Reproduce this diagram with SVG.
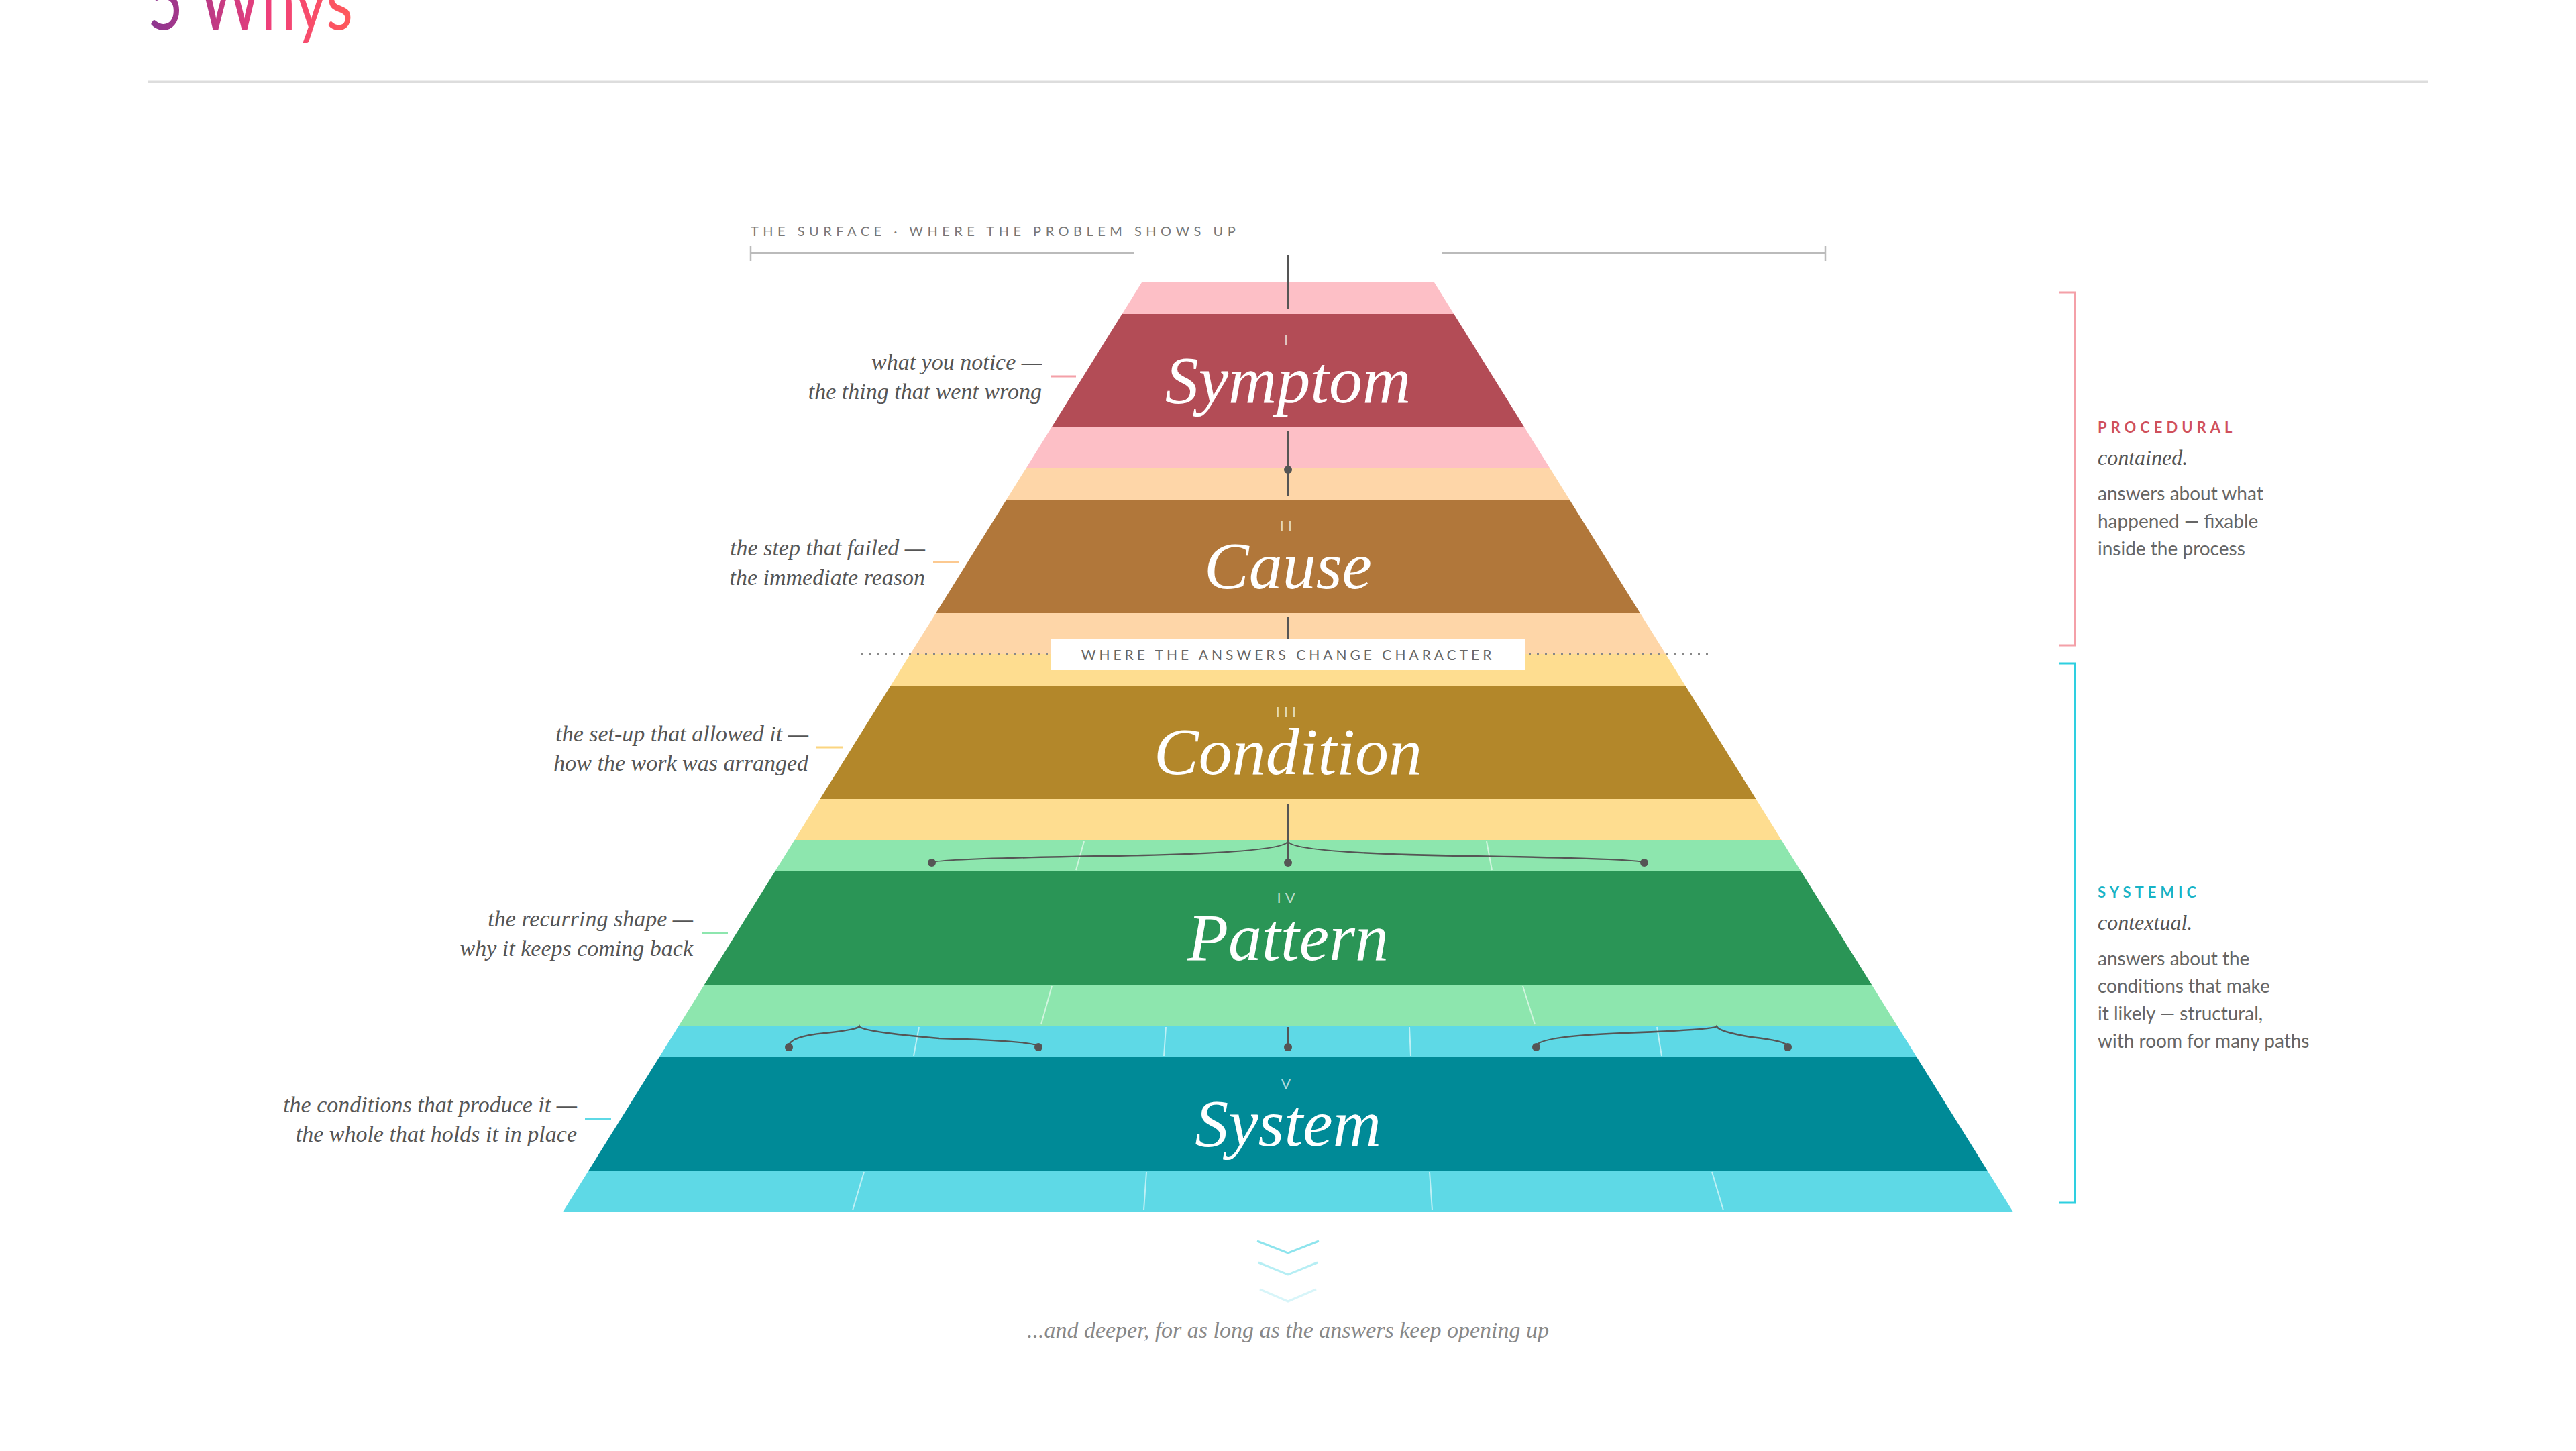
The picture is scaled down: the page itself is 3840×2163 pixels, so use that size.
<svg xmlns="http://www.w3.org/2000/svg" width="3840" height="2163" viewBox="0 0 3840 2163">
<defs>
<linearGradient id="tg" x1="0" x2="1" y1="0" y2="0"><stop offset="0" stop-color="#8a3590"/><stop offset="0.6" stop-color="#f0407a"/><stop offset="1" stop-color="#ff5a5a"/></linearGradient>
<style>
.name{font-family:"Liberation Serif","DejaVu Serif",serif;font-style:italic;font-size:100px;fill:#fff;text-anchor:middle}
.num{font-family:"Lato","Liberation Sans",sans-serif;font-size:22px;fill:#fff;fill-opacity:.7;text-anchor:middle;letter-spacing:6px}
.ann{font-family:"Liberation Serif","DejaVu Serif",serif;font-style:italic;font-size:34px;fill:#555;text-anchor:end}
.cap{font-family:"Lato","Liberation Sans",sans-serif;font-size:20px;fill:#777;letter-spacing:6.5px}
.body{font-family:"Lato","Open Sans",sans-serif;font-size:28px;fill:#666}
.sub{font-family:"Liberation Serif","DejaVu Serif",serif;font-style:italic;font-size:32px;fill:#555}
.ax{stroke:#555;stroke-width:2.5;fill:none}
.dv{stroke:#fff;stroke-opacity:.6;stroke-width:2}
.dot{fill:#555}
</style>
</defs>
<rect width="3840" height="2163" fill="#fff"/>
<text x="220" y="44" font-family="Lato,'Liberation Sans',sans-serif" font-size="118" fill="url(#tg)" textLength="306" lengthAdjust="spacingAndGlyphs">5 Whys</text>
<line x1="220" y1="122" x2="3620" y2="122" stroke="#ddd" stroke-width="3"/>

<g id="surface">
<text x="1119" y="352" class="cap">THE SURFACE · WHERE THE PROBLEM SHOWS UP</text>
<path d="M1119 377H1690M2150 377H2721M1119 367V389M2721 367V389" stroke="#bbb" stroke-width="2.5" fill="none"/>
</g>

<g id="level1">
<polygon points="1702,421 2138,421 2167.3,468 1672.7,468" fill="#fdbfc6"/>
<polygon points="1672.7,468 2167.3,468 2272.5,637 1567.5,637" fill="#b34c56"/>
<polygon points="1567.5,637 2272.5,637 2310.5,698 1529.5,698" fill="#fdbfc6"/>
<text x="1920" y="515" class="num">I</text>
<text x="1920" y="600" class="name">Symptom</text>
<text x="1553" y="551" class="ann">what you notice —</text>
<text x="1553" y="595" class="ann">the thing that went wrong</text>
<line x1="1567" y1="561" x2="1604" y2="561" stroke="#f4a0a8" stroke-width="3"/>
</g>
<g id="level2">
<polygon points="1529.5,698 2310.5,698 2339.8,745 1500.2,745" fill="#fed6a8"/>
<polygon points="1500.2,745 2339.8,745 2444.9,914 1395.1,914" fill="#b1773a"/>
<polygon points="1395.1,914 2444.9,914 2483,975 1357,975" fill="#fed6a8"/>
<text x="1920" y="792" class="num">II</text>
<text x="1920" y="877" class="name">Cause</text>
<text x="1379" y="828" class="ann">the step that failed —</text>
<text x="1379" y="872" class="ann">the immediate reason</text>
<line x1="1391" y1="838" x2="1430" y2="838" stroke="#fcc990" stroke-width="3"/>
</g>
<g id="level3">
<polygon points="1357,975 2483,975 2512.3,1022 1327.7,1022" fill="#fedd90"/>
<polygon points="1327.7,1022 2512.3,1022 2617.6,1191 1222.4,1191" fill="#b3872a"/>
<polygon points="1222.4,1191 2617.6,1191 2655.5,1252 1184.5,1252" fill="#fedd90"/>
<text x="1920" y="1069" class="num">III</text>
<text x="1920" y="1154" class="name">Condition</text>
<text x="1205" y="1105" class="ann">the set-up that allowed it —</text>
<text x="1205" y="1149" class="ann">how the work was arranged</text>
<line x1="1217" y1="1114" x2="1256" y2="1114" stroke="#fbd580" stroke-width="3"/>
</g>
<g id="level4">
<polygon points="1184.5,1252 2655.5,1252 2684.8,1299 1155.2,1299" fill="#8de6ae"/>
<polygon points="1155.2,1299 2684.8,1299 2790.1,1468 1049.9,1468" fill="#2a9556"/>
<polygon points="1049.9,1468 2790.1,1468 2828.1,1529 1011.9,1529" fill="#8de6ae"/>
<path class="dv" d="M1616 1254L1604 1297M2216 1254L2224 1297M1568 1470L1552 1527M2270 1470L2288 1527"/>
<text x="1920" y="1346" class="num">IV</text>
<text x="1920" y="1431" class="name">Pattern</text>
<text x="1033" y="1381" class="ann">the recurring shape —</text>
<text x="1033" y="1425" class="ann">why it keeps coming back</text>
<line x1="1046" y1="1391" x2="1085" y2="1391" stroke="#8de6ae" stroke-width="3"/>
</g>
<g id="level5">
<polygon points="1011.9,1529 2828.1,1529 2857.4,1576 982.6,1576" fill="#5ed9e6"/>
<polygon points="982.6,1576 2857.4,1576 2962.6,1745 877.4,1745" fill="#008a97"/>
<polygon points="877.4,1745 2962.6,1745 3000.6,1806 839.4,1806" fill="#5ed9e6"/>
<path class="dv" d="M1370 1531L1362 1574M1738 1531L1735 1574M2101 1531L2103 1574M2470 1531L2477 1574M1288 1747L1271 1804M1709 1747L1705 1804M2131 1747L2135 1804M2552 1747L2569 1804"/>
<text x="1920" y="1623" class="num">V</text>
<text x="1920" y="1708" class="name">System</text>
<text x="860" y="1658" class="ann">the conditions that produce it —</text>
<text x="860" y="1702" class="ann">the whole that holds it in place</text>
<line x1="872" y1="1668" x2="911" y2="1668" stroke="#5ed9e6" stroke-width="3"/>
</g>

<g id="connectors">
<path class="ax" d="M1920 380V460M1920 642V740M1920 920V952M1920 1198V1284M1920 1531V1560"/>
<circle class="dot" cx="1920" cy="700" r="6"/>
<path class="ax" d="M1920 1254Q1915 1272 1650 1276Q1392 1280 1389 1286M1920 1254Q1925 1272 2190 1276Q2448 1280 2451 1286"/>
<circle class="dot" cx="1389" cy="1286" r="6"/><circle class="dot" cx="2451" cy="1286" r="6"/><circle class="dot" cx="1920" cy="1286" r="6"/>
<path class="ax" d="M1176 1560Q1176 1545 1230 1540Q1278 1535 1281 1530Q1284 1538 1400 1548Q1545 1552 1548 1560M2290 1560Q2290 1545 2420 1540Q2556 1535 2559 1530Q2562 1538 2610 1546Q2665 1552 2665 1560"/>
<circle class="dot" cx="1176" cy="1561" r="6"/><circle class="dot" cx="1548" cy="1561" r="6"/><circle class="dot" cx="2290" cy="1561" r="6"/><circle class="dot" cx="2665" cy="1561" r="6"/><circle class="dot" cx="1920" cy="1561" r="6"/>
</g>

<g id="divide">
<line x1="1283" y1="975" x2="2547" y2="975" stroke="#888" stroke-width="2" stroke-dasharray="3 9"/>
<rect x="1567" y="953" width="706" height="46" fill="#fff"/>
<text x="1920" y="984" class="cap" text-anchor="middle" style="font-size:21px;fill:#666;letter-spacing:5px">WHERE THE ANSWERS CHANGE CHARACTER</text>
</g>

<g id="procedural">
<path d="M3069 436H3093V962H3069" stroke="#f4a0a8" stroke-width="3" fill="none"/>
<text x="3127" y="645" font-family="Lato,'Liberation Sans',sans-serif" font-weight="bold" font-size="22" letter-spacing="6" fill="#d0505c">PROCEDURAL</text>
<text x="3127" y="693" class="sub">contained.</text>
<text x="3127" y="746" class="body">answers about what</text>
<text x="3127" y="787" class="body">happened — fixable</text>
<text x="3127" y="828" class="body">inside the process</text>
</g>
<g id="systemic">
<path d="M3069 989H3093V1793H3069" stroke="#2ecfe0" stroke-width="3" fill="none"/>
<text x="3127" y="1338" font-family="Lato,'Liberation Sans',sans-serif" font-weight="bold" font-size="22" letter-spacing="6" fill="#17b3c6">SYSTEMIC</text>
<text x="3127" y="1386" class="sub">contextual.</text>
<text x="3127" y="1439" class="body">answers about the</text>
<text x="3127" y="1480" class="body">conditions that make</text>
<text x="3127" y="1521" class="body">it likely — structural,</text>
<text x="3127" y="1562" class="body">with room for many paths</text>
</g>

<g id="deeper">
<path d="M1874 1850L1920 1868L1966 1850" stroke="#5ed9e6" stroke-opacity=".7" stroke-width="3" fill="none"/>
<path d="M1876 1882L1920 1900L1964 1882" stroke="#5ed9e6" stroke-opacity=".45" stroke-width="3" fill="none"/>
<path d="M1878 1922L1920 1940L1962 1922" stroke="#5ed9e6" stroke-opacity=".25" stroke-width="3" fill="none"/>
<text x="1920" y="1994" class="ann" style="text-anchor:middle;fill:#888">...and deeper, for as long as the answers keep opening up</text>
</g>
</svg>
